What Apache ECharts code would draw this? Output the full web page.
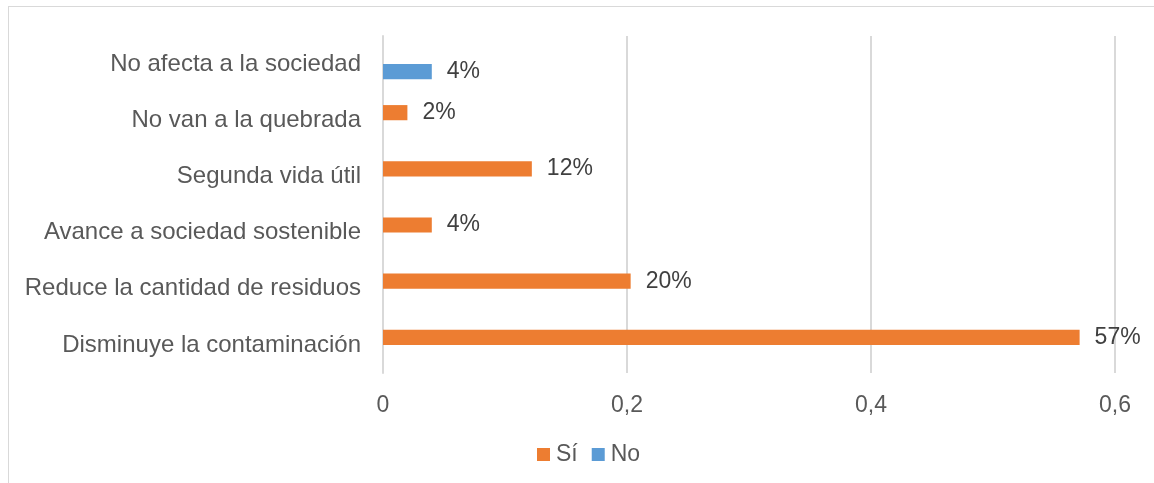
<!DOCTYPE html>
<html lang="es">
<head>
    <meta charset="UTF-8">
    <title>Beneficios</title>
    <style>
        html,body{
            margin: 0;
            padding: 0;
            background: #fff;
        }
        #frame{
            position: absolute;
            left: 8px;
            top: 6px;
            width: 1146px;
            height: 477px;
            border-left: 1px solid #d9d9d9;
            border-top: 1px solid #d9d9d9;
            box-sizing: border-box;
        }
        #main{
            position: absolute;
            left: 0;
            top: 0;
            width: 1154px;
            height: 483px;
        }
    </style>
    <script src="https://cdn.jsdelivr.net/npm/echarts@6/dist/echarts.min.js"></script>
</head>
<body>
<div id="frame"></div>
<div id="main"></div>
<script>
    // categorias de abajo hacia arriba
    var categorias = [
        'Disminuye la contaminación',
        'Reduce la cantidad de residuos',
        'Avance a sociedad sostenible',
        'Segunda vida útil',
        'No van a la quebrada',
        'No afecta a la sociedad'
    ];
    var valoresSi = [0.571, 0.203, 0.04, 0.122, 0.02, null];
    var valoresNo = [null, null, null, null, null, 0.04];
    var ticks = [0, 0.2, 0.4, 0.6];

    var fuente = '"Liberation Sans", Arial, sans-serif';

    function pct(p) {
        return Math.round(p.value * 100) + '%';
    }

    var etiqueta = {
        show: true,
        position: 'right',
        distance: 15,
        fontSize: 23,
        color: '#404040',
        padding: [3, 0, 0, 0],
        formatter: pct
    };

    var chart = echarts.init(document.getElementById('main'));
    var option = {
        animation: false,
        textStyle: {fontFamily: fuente},
        legend: {
            bottom: 12,
            left: 532,
            itemWidth: 13,
            itemHeight: 13,
            itemGap: 14,
            icon: 'rect',
            textStyle: {fontSize: 23, color: '#595959', fontFamily: fuente, padding: [0, 0, 0, 1]},
            data: ['Sí', 'No']
        },
        grid: {
            left: 383,
            right: 39,
            top: 36,
            bottom: 110
        },
        xAxis: {
            type: 'value',
            min: ticks[0],
            max: ticks[ticks.length - 1],
            interval: 0.2,
            axisLine: {show: false},
            axisTick: {show: false},
            splitLine: {lineStyle: {color: '#d9d9d9', width: 2}},
            axisLabel: {
                fontSize: 23,
                color: '#595959',
                margin: 21,
                formatter: function (v) {
                    return String(Math.round(v * 10) / 10).replace('.', ',');
                }
            }
        },
        yAxis: {
            type: 'category',
            data: categorias,
            axisLine: {lineStyle: {color: '#d9d9d9', width: 2}},
            axisTick: {show: false},
            axisLabel: {fontSize: 24, color: '#595959', margin: 22, padding: [5, 0, 0, 0]}
        },
        series: [
            {
                name: 'Sí',
                type: 'bar',
                data: valoresSi,
                itemStyle: {color: '#ed7d31'},
                barGap: '0%',
                barCategoryGap: '46%',
                label: etiqueta
            },
            {
                name: 'No',
                type: 'bar',
                data: valoresNo,
                itemStyle: {color: '#5b9bd5'},
                barGap: '0%',
                barCategoryGap: '46%',
                label: etiqueta
            }
        ]
    };
    chart.setOption(option);
</script>
</body>
</html>
